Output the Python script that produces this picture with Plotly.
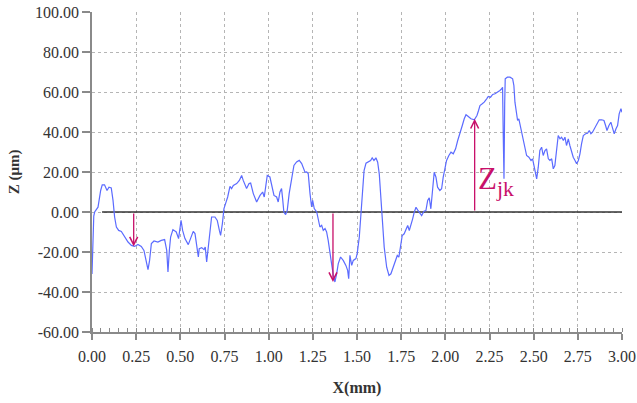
import plotly.graph_objects as go

# Profile data (X in mm, Z in µm)
x_mm = [0.000, 0.002, 0.005, 0.010, 0.015, 0.034, 0.049, 0.058, 0.071, 0.085, 0.096, 0.109, 0.119, 0.128, 0.138,
        0.151, 0.166, 0.185, 0.204, 0.223, 0.241, 0.260, 0.279, 0.294, 0.307, 0.317, 0.326, 0.336, 0.351, 0.373,
        0.392, 0.411, 0.423, 0.430, 0.438, 0.445, 0.458, 0.477, 0.490, 0.504, 0.513, 0.526, 0.545, 0.560, 0.573,
        0.583, 0.592, 0.602, 0.607, 0.621, 0.634, 0.641, 0.649, 0.658, 0.668, 0.677, 0.696, 0.709, 0.721, 0.728,
        0.738, 0.747, 0.756, 0.768, 0.781, 0.790, 0.800, 0.819, 0.834, 0.847, 0.856, 0.866, 0.875, 0.889, 0.898,
        0.913, 0.932, 0.951, 0.966, 0.975, 0.985, 0.992, 1.007, 1.017, 1.030, 1.045, 1.054, 1.064, 1.073, 1.079,
        1.086, 1.096, 1.105, 1.116, 1.130, 1.143, 1.158, 1.173, 1.187, 1.196, 1.206, 1.215, 1.224, 1.234, 1.243,
        1.249, 1.258, 1.272, 1.281, 1.290, 1.300, 1.309, 1.319, 1.328, 1.337, 1.347, 1.356, 1.366, 1.375, 1.385,
        1.394, 1.407, 1.422, 1.437, 1.447, 1.453, 1.460, 1.470, 1.479, 1.494, 1.501, 1.513, 1.526, 1.540, 1.551,
        1.564, 1.577, 1.586, 1.596, 1.607, 1.617, 1.626, 1.635, 1.645, 1.654, 1.668, 1.681, 1.692, 1.705, 1.719,
        1.728, 1.737, 1.747, 1.756, 1.767, 1.777, 1.787, 1.796, 1.805, 1.815, 1.824, 1.834, 1.843, 1.852, 1.866,
        1.879, 1.890, 1.900, 1.909, 1.918, 1.928, 1.937, 1.947, 1.956, 1.969, 1.979, 1.988, 1.999, 2.007, 2.020,
        2.032, 2.045, 2.058, 2.070, 2.083, 2.096, 2.107, 2.117, 2.130, 2.145, 2.164, 2.179, 2.188, 2.196, 2.209,
        2.220, 2.234, 2.243, 2.256, 2.268, 2.281, 2.296, 2.309, 2.319, 2.324, 2.328, 2.332, 2.336, 2.339, 2.351,
        2.366, 2.381, 2.388, 2.394, 2.400, 2.409, 2.416, 2.428, 2.437, 2.446, 2.460, 2.473, 2.485, 2.494, 2.503,
        2.513, 2.517, 2.526, 2.535, 2.545, 2.554, 2.564, 2.573, 2.583, 2.592, 2.602, 2.611, 2.620, 2.630, 2.639,
        2.649, 2.658, 2.668, 2.677, 2.686, 2.696, 2.705, 2.715, 2.724, 2.734, 2.743, 2.753, 2.762, 2.771, 2.781,
        2.794, 2.805, 2.815, 2.824, 2.833, 2.843, 2.852, 2.862, 2.871, 2.885, 2.898, 2.907, 2.915, 2.926, 2.937,
        2.945, 2.956, 2.966, 2.975, 2.984, 2.994, 3.000]
z_um = [-31, -22, -8, -2, 0, 2.4, 10.75, 13.6, 13.6, 10.75, 12.4, 12, 5.8, -2.5, -7.5,
        -9.2, -9.7, -12.5, -15, -16.7, -17.2, -16.2, -17.2, -19.2, -25.8, -28.8, -24.2, -15.8, -14.5, -15,
        -14.2, -13.8, -19.2, -30, -19, -12.5, -8.8, -10, -13.3, -4.2, -9.2, -13.3, -16.3, -12.5, -9.7,
        -10.8, -16.7, -22.5, -18.3, -17.8, -18.8, -17.5, -25, -17.5, -7.5, -2.5, -2.5, -4.2, -9.2, -11.7,
        -5.8, 1.7, 4.2, 7.5, 12.8, 11.7, 13.3, 14.2, 15.8, 18.3, 15.8, 13.6, 11.7, 14.2, 14.5,
        9.2, 5, 8.3, 10, 7.5, 13.3, 18.3, 17.5, 13.3, 8.3, 7.5, 5, 10, 11.7, 6.7,
        0, -1.3, 0.75, 9.2, 17.5, 23.3, 25, 25.8, 24.2, 22.5, 19.8, 20, 19.2, 9.2, 2.5,
        5.8, 1.7, 0, -3.3, -7.5, -6.7, -9.2, -8.3, -10, -14.2, -19.2, -25.8, -31.7, -35, -30.8,
        -25.8, -22.5, -24.2, -26.7, -29.2, -33.3, -21.7, -26.7, -24.2, -23.3, -20.8, -12.5, 2.4, 20.75, 24.4,
        24.9, 25.75, 27.1, 25.75, 27.1, 24.9, 19.1, 7.4, -4.25, -17.6, -27.6, -31.75, -30.9, -27.6, -23.4,
        -21.75, -22.6, -17.6, -11.75, -10.9, -8.9, -6.75, -9.25, -6.75, -3.4, -0.1, 2.4, 1.1, -0.1, -1.75,
        0.4, 0.75, 5.75, 7.1, 1.6, 10.75, 19.9, 17.4, 12.4, 10.75, 11.6, 17.4, 22.4, 25.75, 28.25,
        29.9, 29.1, 31.6, 35.75, 39.1, 43.25, 46.6, 48.6, 47.75, 46.6, 46.1, 48.25, 50.75, 53.25, 54.1,
        54.9, 56.6, 57.75, 57.4, 58.75, 59.1, 59.9, 60.75, 61.6, 62.4, 37.4, 16.6, 54.1, 66.6, 67.4,
        67.4, 66.6, 63.25, 54.9, 49.9, 45.75, 46.6, 41.6, 37.4, 32.4, 28.25, 27.4, 25.75, 26.6, 22.4,
        17.1, 16.6, 22.4, 30.75, 32.4, 28.25, 30.75, 31.6, 26.6, 25.75, 26.6, 21.6, 23.25, 29.9, 38.25,
        36.6, 37.4, 35.75, 37.4, 33.25, 36.6, 33.25, 29.9, 27.4, 25.75, 24.1, 25.75, 29.1, 34.1, 38.25,
        39.1, 39.4, 40.75, 39.1, 39.9, 41.6, 42.4, 44.9, 46.1, 46.1, 45.75, 43.25, 40.75, 43.25, 44.9,
        42.4, 39.1, 41.6, 43.25, 49.1, 51.6, 49.9]

# Mean (reference) line
mean_x = [0.057, 3.0]
mean_z = [0, 0]

# Z_jk arrows: position and tip height
arrow_x = [0.236, 1.364, 2.166]
arrow_z = [-17.3, -35.0, 46.6]

# Label
label_x = 2.172
label_z = 15.5
label_text = "Z<sub>jk</sub>"

# Ticks
x_ticks = [0.00, 0.25, 0.50, 0.75, 1.00, 1.25, 1.50, 1.75, 2.00, 2.25, 2.50, 2.75, 3.00]
x_tick_labels = ["0.00", "0.25", "0.50", "0.75", "1.00", "1.25", "1.50", "1.75", "2.00", "2.25", "2.50", "2.75", "3.00"]
y_ticks = [-60, -40, -20, 0, 20, 40, 60, 80, 100]
y_tick_labels = ["-60.00", "-40.00", "-20.00", "0.00", "20.00", "40.00", "60.00", "80.00", "100.00"]

ACCENT = "#C8106A"
SERIF = "Liberation Serif, Times New Roman, DejaVu Serif, serif"

fig = go.Figure()
fig.add_trace(go.Scatter(x=mean_x, y=mean_z, mode="lines",
                         line=dict(color="#333333", width=1.5), hoverinfo="skip", showlegend=False))
fig.add_trace(go.Scatter(x=x_mm, y=z_um, mode="lines",
                         line=dict(color="#5b6bff", width=1.2), showlegend=False))

for ax_, az_ in zip(arrow_x, arrow_z):
    fig.add_annotation(x=ax_, y=az_, ax=ax_, ay=0, xref="x", yref="y", axref="x", ayref="y",
                       showarrow=True, arrowhead=5, arrowsize=1.2, arrowwidth=1.3,
                       arrowcolor=ACCENT, text="", standoff=0, startstandoff=0)

fig.add_annotation(x=label_x, y=label_z, xref="x", yref="y", text=label_text, showarrow=False,
                   xanchor="left", yanchor="middle",
                   font=dict(family=SERIF, size=31, color=ACCENT))

fig.update_xaxes(range=[0, 3.0], tickvals=x_ticks, ticktext=x_tick_labels, automargin=False,
                 showline=True, linecolor="#8a8a8a", linewidth=1.5,
                 ticks="outside", ticklen=6, tickcolor="#8a8a8a", tickwidth=1.5,
                 ticklabelstandoff=3,
                 minor=dict(dtick=0.05, ticks="inside", ticklen=4, tickcolor="#8a8a8a", tickwidth=1, showgrid=False),
                 showgrid=True, gridcolor="#b5b5b5", griddash="dot", gridwidth=1,
                 zeroline=False,
                 tickfont=dict(family=SERIF, size=16, color="#333333"),
                 title=dict(text="X(mm)", font=dict(family=SERIF, size=16, color="#333333", weight="bold"),
                            standoff=18))
fig.update_yaxes(range=[-60, 100], tickvals=y_ticks, ticktext=y_tick_labels, automargin=False,
                 showline=True, linecolor="#8a8a8a", linewidth=1.5,
                 ticks="outside", ticklen=8, tickcolor="#8a8a8a", tickwidth=1.5,
                 showgrid=True, gridcolor="#b5b5b5", griddash="dot", gridwidth=1,
                 zeroline=False,
                 tickfont=dict(family=SERIF, size=16, color="#333333"),
                 title=dict(text="Z (μm)", font=dict(family=SERIF, size=15, color="#333333", weight="bold"),
                            standoff=12))

fig.update_layout(width=637, height=403, margin=dict(l=92, r=15, t=12, b=71),
                  plot_bgcolor="white", paper_bgcolor="white")

fig.write_html("out.html", config={"displayModeBar": False},
               post_script="document.body.style.margin='0';document.body.style.padding='0';")
